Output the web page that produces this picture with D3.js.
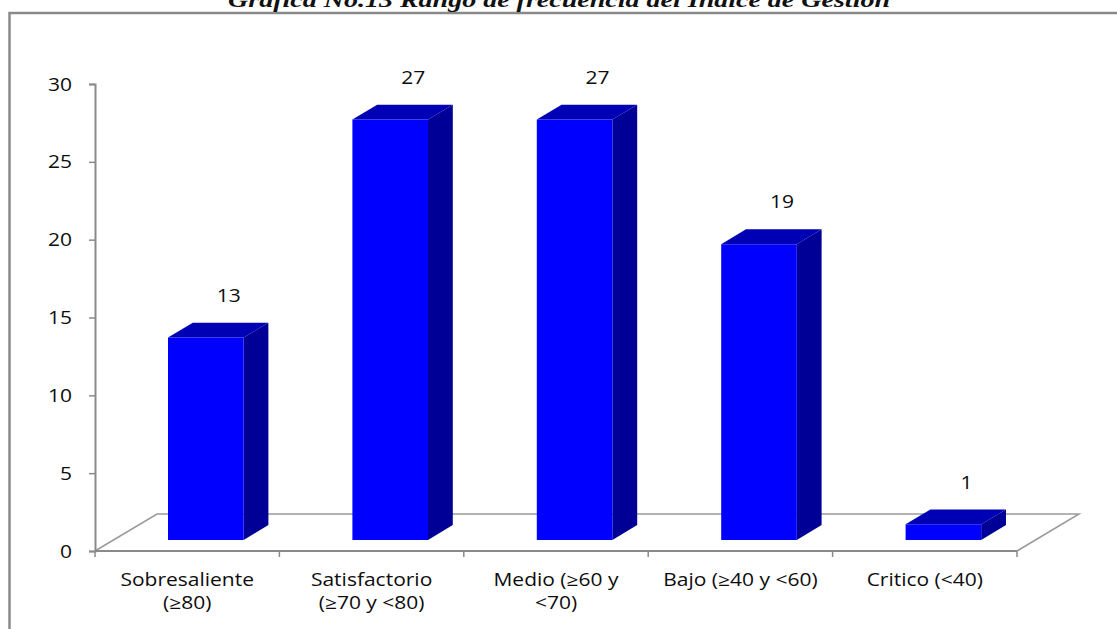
<!DOCTYPE html>
<html><head><meta charset="utf-8">
<script src="https://cdn.jsdelivr.net/npm/d3@7"></script>
<style>
html,body{margin:0;padding:0;background:#fff;}
svg{display:block;}
text{font-family:"Open Sans",sans-serif;fill:#0d0d0d;}
</style></head>
<body>
<svg id="c" width="1117" height="629"></svg>
<script>
const title = "Gráfica No.13 Rango de frecuencia del Índice de Gestión";
const categories = ["Sobresaliente (≥80)", "Satisfactorio (≥70 y <80)", "Medio (≥60 y <70)", "Bajo (≥40 y <60)", "Critico (<40)"];
const categoryLines = [["Sobresaliente","(≥80)"],["Satisfactorio","(≥70 y <80)"],["Medio (≥60 y","<70)"],["Bajo (≥40 y <60)"],["Critico (<40)"]];
const values = [13, 27, 27, 19, 1];
const yTicks = [0, 5, 10, 15, 20, 25, 30];

const svg = d3.select("#c");
const W = 1117, H = 629;

// frame
svg.append("rect").attr("x", 9.5).attr("y", 13).attr("width", W + 20).attr("height", H + 20)
  .attr("fill", "#fff").attr("stroke", "#8a8a8a").attr("stroke-width", 2.5);

// title (partially cut off at top, as in the source)
svg.append("text").attr("x", 228).attr("y", 7)
  .attr("textLength", 662).attr("lengthAdjust", "spacingAndGlyphs")
  .style("font-family", "'Liberation Serif', serif").style("font-weight", "bold").style("font-style", "italic")
  .style("font-size", "22px").style("fill", "#111").text(title);

const x = d3.scaleBand().domain(categories).range([95, 1017]).padding(0);
const y = d3.scaleLinear().domain([0, 30]).range([551, 84]);
const DX = 62, DY = -37; // depth projection of floor
const proj = (px, v, z) => [px + z * DX, y(v) + z * DY];
const z0 = 0.3, z1 = 0.7;
const bw = x.bandwidth() * 0.41;

// floor
const floorPts = [proj(95, 0, 0), proj(95, 0, 1), proj(1017, 0, 1), proj(1017, 0, 0)];
svg.append("path").attr("d", d3.line()(floorPts)).attr("fill", "none")
  .attr("stroke", "#9a9a9a").attr("stroke-width", 1.5);

// y axis
const yAxis = svg.append("g").attr("transform", "translate(95,0)")
  .call(d3.axisLeft(y).tickValues(yTicks).tickSize(6).tickPadding(14));
yAxis.select(".domain").attr("stroke", "#8a8a8a").attr("stroke-width", 2);
yAxis.selectAll(".tick line").attr("stroke", "#8a8a8a").attr("stroke-width", 1.5);
yAxis.selectAll(".tick text").each(function(d) {
  d3.select(this).attr("x", null).attr("dy", null).attr("y", null)
   .attr("text-anchor", "end")
   .attr("transform", `translate(-23,6) scale(1.2,1)`)
   .style("font-size", "17.5px").style("fill", "#0d0d0d").style("font-family", "'Open Sans',sans-serif");
});

// x axis line + ticks
svg.append("line").attr("x1", 95).attr("x2", 1017).attr("y1", 551).attr("y2", 551)
  .attr("stroke", "#8a8a8a").attr("stroke-width", 2);
const bounds = categories.map(c => x(c)).concat([1017]);
svg.selectAll(".xt").data(bounds).enter().append("line")
  .attr("x1", d => d).attr("x2", d => d).attr("y1", 551).attr("y2", 557)
  .attr("stroke", "#8a8a8a").attr("stroke-width", 1.5);

// bars
const bars = svg.append("g");
categories.forEach((c, i) => {
  const v = values[i];
  const cx = x(c) + x.bandwidth() / 2;
  const xl = cx - bw / 2, xr = cx + bw / 2;
  const fbl = proj(xl, 0, z0), fbr = proj(xr, 0, z0), ftl = proj(xl, v, z0), ftr = proj(xr, v, z0);
  const bbr = proj(xr, 0, z1), btl = proj(xl, v, z1), btr = proj(xr, v, z1);
  bars.append("path").attr("d", d3.line()([fbr, ftr, btr, bbr]) + "Z").attr("fill", "#000096");
  bars.append("path").attr("d", d3.line()([ftl, ftr, btr, btl]) + "Z").attr("fill", "#0000B4");
  bars.append("path").attr("d", d3.line()([fbl, ftl, ftr, fbr]) + "Z").attr("fill", "#0000FF");
  const fc = (fbl[0] + fbr[0]) / 2;
  svg.append("text").attr("text-anchor", "middle")
    .attr("transform", `translate(${fc + 23},${btl[1] - 21}) scale(1.2,1)`)
    .style("font-size", "17.5px").text(v);
  categoryLines[i].forEach((ln, j) => {
    svg.append("text").attr("text-anchor", "middle")
      .attr("transform", `translate(${cx},${586 + j * 23}) scale(1.2,1)`)
      .style("font-size", "17.5px").text(ln);
  });
});
</script>
</body></html>
